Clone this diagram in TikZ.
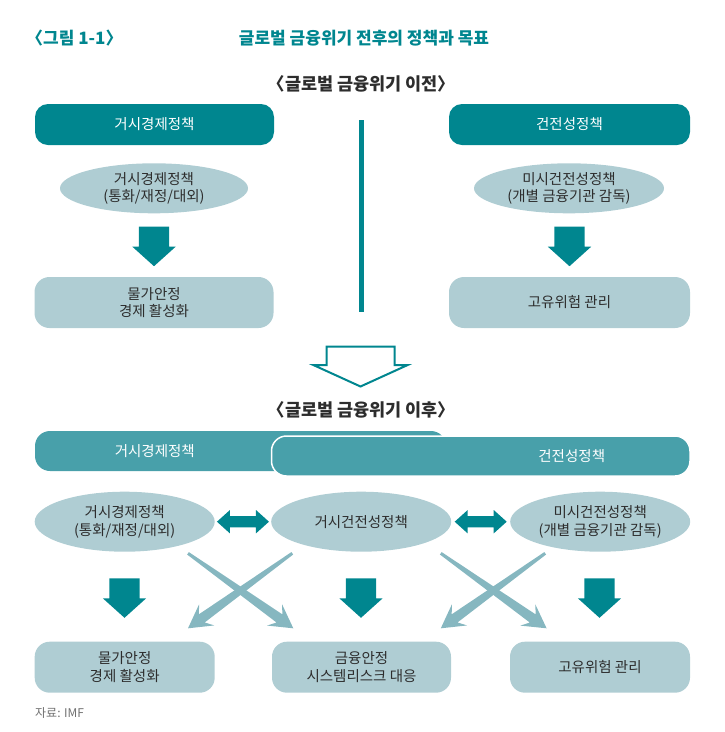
\documentclass[tikz,border=0pt]{standalone}
\usepackage{fontspec}
\setmainfont{Noto Sans CJK KR}
\usetikzlibrary{shapes.geometric,shapes.arrows,calc}

\definecolor{tealdark}{RGB}{0,134,143}
\definecolor{tealmid}{RGB}{72,160,170}
\definecolor{tealpale}{RGB}{175,205,211}
\definecolor{tealcross}{RGB}{134,183,192}
\definecolor{textdark}{RGB}{45,45,45}
\definecolor{notegray}{RGB}{112,112,112}

% tapered arrow from #1 to tip #2
\newcommand\crossarrow[2]{%
  \coordinate (hb) at ($(#2)!17pt!(#1)$);
  \coordinate (hw) at ($(#2)!23pt!(#1)$);
  \fill[tealcross] ($(#1)!1.5pt!90:(#2)$) -- ($(hb)!5pt!90:(#2)$)
    -- ($(hw)!13pt!90:(#2)$) -- (#2) -- ($(hw)!13pt!-90:(#2)$)
    -- ($(hb)!5pt!-90:(#2)$) -- ($(#1)!1.5pt!-90:(#2)$) -- cycle;}

\tikzset{
  boxfont/.style={font=\fontsize{14.5}{17.5}\selectfont},
  darkbox/.style={rectangle, rounded corners=13pt, fill=tealdark, text=white,
    minimum height=41pt, inner sep=0pt, boxfont},
  banner/.style={rectangle, rounded corners=15pt, fill=tealmid,
    minimum height=40pt, inner sep=0pt},
  palebox/.style={rectangle, rounded corners=15pt, fill=tealpale, text=textdark,
    minimum height=51pt, inner sep=0pt, align=center, boxfont},
  paleoval/.style={ellipse, fill=tealpale, text=textdark, inner sep=0pt,
    align=center, boxfont},
  downarrow/.style={single arrow, fill=tealdark, shape border rotate=270,
    inner xsep=15pt, inner ysep=0pt, minimum height=39.5pt,
    single arrow head extend=6.5pt, single arrow tip angle=96,
    outer sep=0pt, anchor=tail},
  hollowarrow/.style={single arrow, draw=tealdark, line width=2pt, fill=white,
    shape border rotate=270, inner xsep=33pt, inner ysep=0pt,
    minimum height=40pt, single arrow head extend=13pt,
    single arrow tip angle=131, outer sep=0pt, anchor=tail},
  twoway/.style={double arrow, fill=tealdark, inner xsep=0pt, inner ysep=5.5pt,
    minimum height=52pt, double arrow head extend=6pt,
    double arrow tip angle=84},
  sectionlabel/.style={text=textdark, inner sep=0pt,
    font=\fontsize{17.5}{20}\selectfont\bfseries}
}

\begin{document}
\begin{tikzpicture}[x=1pt,y=-1pt]
\useasboundingbox (0,0) rectangle (724,732);

% heading
\node[anchor=west, text=tealdark, inner sep=0pt,
  font=\fontsize{17}{20}\selectfont\bfseries] (fignum) at (26,38.3) {〈그림 1-1〉};
\node[text=tealdark, inner sep=0pt,
  font=\fontsize{17}{20}\selectfont\bfseries] (title) at (364,38.3)
  {글로벌 금융위기 전후의 정책과 목표};

% before the crisis
\node[sectionlabel] (before) at (361.5,83.5) {〈글로벌 금융위기 이전〉};

\node[darkbox, minimum width=239pt] (preMacro) at (154.5,124.5) {거시경제정책};
\node[darkbox, minimum width=241pt] (prePru) at (569.5,124.5) {건전성정책};

\coordinate (divTop) at (361,120);
\coordinate (divBot) at (361,312);
\draw[tealdark, line width=5pt] (divTop) -- (divBot);

\node[paleoval, minimum width=188pt, minimum height=50pt] (preMacroTool)
  at (154,188.3) {거시경제정책\\(통화/재정/대외)};
\node[paleoval, minimum width=190pt, minimum height=50pt] (preMicroTool)
  at (569,188.3) {미시건전성정책\\(개별 금융기관 감독)};

\node[downarrow] (preArrowL) at (154,226.7) {};
\node[downarrow] (preArrowR) at (569.5,226.7) {};

\node[palebox, minimum width=239pt] (preGoalL) at (154,302.5) {물가안정\\경제 활성화};
\node[palebox, minimum width=241pt] (preGoalR) at (569.5,302.5) {고유위험 관리};

\node[hollowarrow] (turn) at (360.5,346.5) {};

% after the crisis
\node[sectionlabel] (after) at (361.5,409.5) {〈글로벌 금융위기 이후〉};

\node[banner, minimum width=411pt] (postMacro) at (240.5,451) {};
\node[banner, draw=white, line width=1.5pt, minimum width=418.5pt] (postPru)
  at (480.75,456) {};
\node[text=white, inner sep=0pt, boxfont] (postMacroName)
  at ([xshift=120pt]postMacro.west) {거시경제정책};
\node[text=white, inner sep=0pt, boxfont] (postPruName)
  at ([xshift=-119pt]postPru.east) {건전성정책};

\node[paleoval, minimum width=180pt, minimum height=60pt] (postMacroTool)
  at (124.7,521.7) {거시경제정책\\(통화/재정/대외)};
\node[paleoval, minimum width=180pt, minimum height=60pt] (postMacroPru)
  at (361.2,521.7) {거시건전성정책};
\node[paleoval, minimum width=180pt, minimum height=60pt] (postMicroTool)
  at (600.2,521.7) {미시건전성정책\\(개별 금융기관 감독)};

\node[twoway] (linkL) at ($(postMacroTool.east)!0.5!(postMacroPru.west)$) {};
\node[twoway] (linkR) at ($(postMacroPru.east)!0.5!(postMicroTool.west)$) {};

\coordinate (xA1) at (188,553.3);
\coordinate (xA2) at (293.3,628.3);
\coordinate (xB1) at (292.3,553.3);
\coordinate (xB2) at (188,628.3);
\coordinate (xC1) at (440.8,553.3);
\coordinate (xC2) at (546.6,628.3);
\coordinate (xD1) at (545.2,553.3);
\coordinate (xD2) at (440.8,628.3);
\crossarrow{xA1}{xA2}
\crossarrow{xB1}{xB2}
\crossarrow{xC1}{xC2}
\crossarrow{xD1}{xD2}

\node[downarrow] (postArrowL) at (124.5,578.3) {};
\node[downarrow] (postArrowM) at (361,578.3) {};
\node[downarrow] (postArrowR) at (599.5,578.3) {};

\node[palebox, minimum width=180pt] (postGoalL) at (124.7,667.2) {물가안정\\경제 활성화};
\node[palebox, minimum width=179pt] (postGoalM) at (361.5,667.2) {금융안정\\시스템리스크 대응};
\node[palebox, minimum width=180pt] (postGoalR) at (600,667.2) {고유위험 관리};

\node[anchor=west, text=notegray, inner sep=0pt,
  font=\fontsize{12}{14}\selectfont] (source) at (35,713) {자료: IMF};
\end{tikzpicture}
\end{document}
